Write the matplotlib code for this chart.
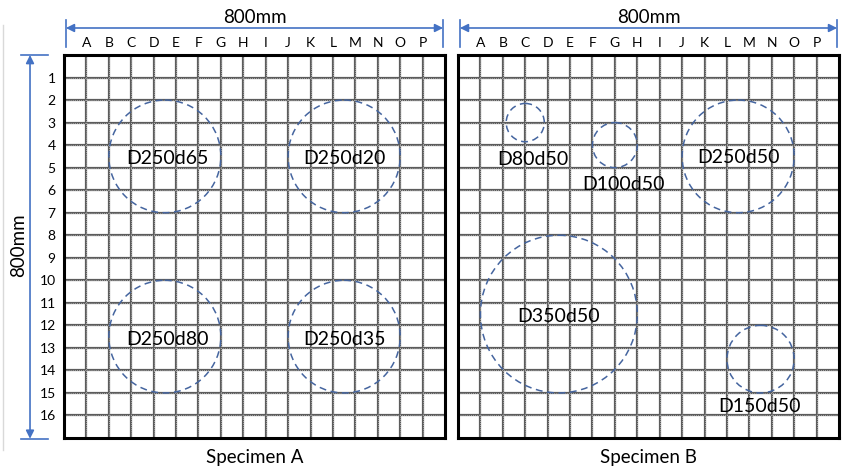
import matplotlib
matplotlib.use("Agg")
import matplotlib.pyplot as plt
from matplotlib.patches import Circle
from matplotlib.lines import Line2D

plt.rcParams['font.family'] = ['Lato', 'DejaVu Sans']

# ---- data ----
col_labels = list("ABCDEFGHIJKLMNOP")
row_labels = [str(i) for i in range(1, 17)]
grid_pos = list(range(1, 17))
n_cells = 17

A_names = ["D250d65", "D250d20", "D250d80", "D250d35"]
A_cx = [4.5, 12.5, 4.5, 12.5]
A_cy = [4.5, 4.5, 12.5, 12.5]
A_r = [2.5, 2.5, 2.5, 2.5]
A_tx = [4.6, 12.5, 4.6, 12.5]
A_ty = [4.6, 4.6, 12.65, 12.65]

B_names = ["D80d50", "D100d50", "D250d50", "D350d50", "D150d50"]
B_cx = [3.0, 7.0, 12.5, 4.5, 13.5]
B_cy = [3.0, 4.0, 4.5, 11.5, 13.5]
B_r = [0.85, 1.0, 2.5, 3.5, 1.5]
B_tx = [3.35, 7.4, 12.5, 4.5, 13.45]
B_ty = [4.65, 5.75, 4.55, 11.6, 15.6]

titles = ["Specimen A", "Specimen B"]
dim_text = "800mm"

# ---- styles ----
W, H = 842, 468
blue = '#4472C4'
circ_col = '#45659F'
fig = plt.figure(figsize=(W / 100, H / 100), dpi=100)

ax_w = 381 / W
ax_h = 383 / H
ax_b = 1 - 438 / H
axA = fig.add_axes([64 / W, ax_b, ax_w, ax_h])
axB = fig.add_axes([458 / W, ax_b, ax_w, ax_h])

def setup(ax, show_rows):
    ax.set_xlim(0, n_cells)
    ax.set_ylim(n_cells, 0)
    for p in grid_pos:
        ax.axvline(p, color='#5c5c5c', lw=1.6, zorder=1)
        ax.axhline(p, color='#5c5c5c', lw=1.6, zorder=1)
        ax.axvline(p, color='#c4c4c4', lw=0.6, ls=(0, (1, 1.5)), zorder=1.1)
        ax.axhline(p, color='#c4c4c4', lw=0.6, ls=(0, (1, 1.5)), zorder=1.1)
    ax.xaxis.tick_top()
    ax.set_xticks(grid_pos)
    ax.set_xticklabels(col_labels, fontsize=10)
    ax.tick_params(axis='x', length=0, pad=4)
    ax.set_yticks(grid_pos)
    if show_rows:
        ax.set_yticklabels(row_labels, fontsize=10)
        ax.tick_params(axis='y', length=0, pad=6)
    else:
        ax.set_yticklabels([])
        ax.tick_params(axis='y', length=0)
    for s in ax.spines.values():
        s.set_linewidth(2.2)
        s.set_color('black')
        s.set_zorder(5)

def draw_circles(ax, cx, cy, r, names, tx, ty):
    for x, y, rr in zip(cx, cy, r):
        ax.add_patch(Circle((x, y), rr, fill=False, edgecolor=circ_col, lw=1.1,
                            ls=(0, (4.5, 3)), zorder=3))
    for n, x, y in zip(names, tx, ty):
        ax.text(x, y, n, fontsize=14, ha='center', va='center', color='black', zorder=4)

def top_dim(ax):
    ax.annotate('', xy=(0.005, 1.0705), xytext=(0.995, 1.0705), xycoords='axes fraction',
                arrowprops=dict(arrowstyle='<|-|>', color=blue, lw=1.2, mutation_scale=12,
                                shrinkA=0, shrinkB=0), annotation_clip=False)
    for x in (0.005, 0.995):
        ax.add_line(Line2D([x, x], [1.021, 1.0914], transform=ax.transAxes, color=blue,
                           lw=1.2, clip_on=False))
    ax.text(0.5, 1.097, dim_text, transform=ax.transAxes, ha='center', va='center',
            fontsize=13.5)

setup(axA, True)
setup(axB, False)
draw_circles(axA, A_cx, A_cy, A_r, A_names, A_tx, A_ty)
draw_circles(axB, B_cx, B_cy, B_r, B_names, B_tx, B_ty)
top_dim(axA)
top_dim(axB)

# left dimension
axA.annotate('', xy=(-0.0892, 1.0), xytext=(-0.0892, -0.002), xycoords='axes fraction',
             arrowprops=dict(arrowstyle='<|-|>', color=blue, lw=1.2, mutation_scale=12,
                             shrinkA=0, shrinkB=0), annotation_clip=False)
for y in (1.0, -0.002):
    axA.add_line(Line2D([-0.1129, -0.042], [y, y], transform=axA.transAxes, color=blue,
                        lw=1.2, clip_on=False))
axA.text(-0.1194, 0.504, dim_text, transform=axA.transAxes, ha='center', va='center',
         rotation=90, fontsize=13.5)

for ax, t in zip((axA, axB), titles):
    ax.text(0.5, -0.05, t, transform=ax.transAxes, ha='center', va='center', fontsize=13.5)

# faint outer frame line on the left
fig.add_artist(Line2D([3 / W, 3 / W], [1 - 25 / H, 1 - 450 / H], color='#d9d9d9', lw=1.0))

fig.savefig('out.png', dpi=100)
